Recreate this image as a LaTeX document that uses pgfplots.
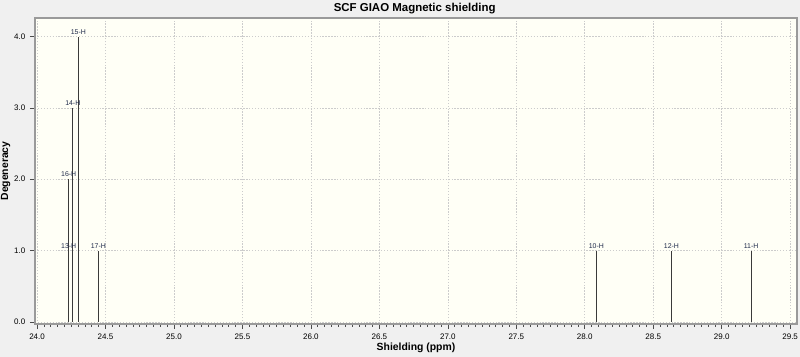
\documentclass[border=0pt]{standalone}
\usepackage{pgfplots}
\pgfplotsset{compat=1.18}
\usepackage{fontspec}
\setmainfont{Liberation Sans}
\definecolor{outerbg}{HTML}{F0F0F0}
\definecolor{plotbg}{HTML}{FFFFF6}
\definecolor{peak}{HTML}{3A3A3A}
\definecolor{lab}{HTML}{1F2A4A}
\definecolor{axgray}{HTML}{9A9A9A}
\pgfplotstableread{
x y label
24.231 1 13-H
24.231 2 16-H
24.261 3 14-H
24.302 4 15-H
24.448 1 17-H
28.085 1 10-H
28.633 1 12-H
29.215 1 11-H
}\peaks
\begin{document}
\begin{tikzpicture}
\useasboundingbox (0,0) rectangle (600pt,267.75pt);
\path[fill=outerbg] (0,0) rectangle (600pt,267.75pt);
\node[font=\fontsize{8.6}{10}\selectfont\bfseries, inner sep=0pt] at (311pt,261.5pt) {SCF GIAO Magnetic shielding};
\begin{axis}[
  at={(26.25pt,24.75pt)}, anchor=south west,
  scale only axis, width=571.5pt, height=229.5pt,
  xmin=23.985, xmax=29.55, ymin=-0.03, ymax=4.26,
  axis background/.style={fill=plotbg},
  axis line style={axgray, line width=0.8pt},
  xtick={24.0,24.5,...,29.5},
  minor x tick num=9,
  ytick={0,1,2,3,4},
  tick align=outside,
  xtick pos=bottom, ytick pos=left,
  major tick length=3.75pt, minor tick length=2.2pt,
  every tick/.style={black!70, line width=0.5pt},
  grid=major,
  major grid style={dash pattern=on 1pt off 1.2pt, gray!40, line width=0.5pt},
  /pgf/number format/assume math mode=true,
  xticklabel style={font=\fontsize{6}{7}\selectfont, /pgf/number format/.cd, fixed, fixed zerofill, precision=1},
  yticklabel style={font=\fontsize{6}{7}\selectfont, /pgf/number format/.cd, fixed, fixed zerofill, precision=1},
  xlabel={\bfseries Shielding (ppm)},
  xlabel style={font=\fontsize{7.8}{9}\selectfont, yshift=4.5pt},
  ylabel={\bfseries Degeneracy},
  ylabel style={font=\fontsize{7.8}{9}\selectfont, yshift=-4pt},
  clip=false,
]
\addplot[ycomb, peak, line width=0.6pt, no marks,
  nodes near coords, point meta=explicit symbolic,
  every node near coord/.append style={font=\fontsize{5.2}{6}\selectfont, text=lab, anchor=south, inner sep=1pt, yshift=0.5pt}]
  table[x=x, y=y, meta=label] {\peaks};
\end{axis}
\end{tikzpicture}
\end{document}
